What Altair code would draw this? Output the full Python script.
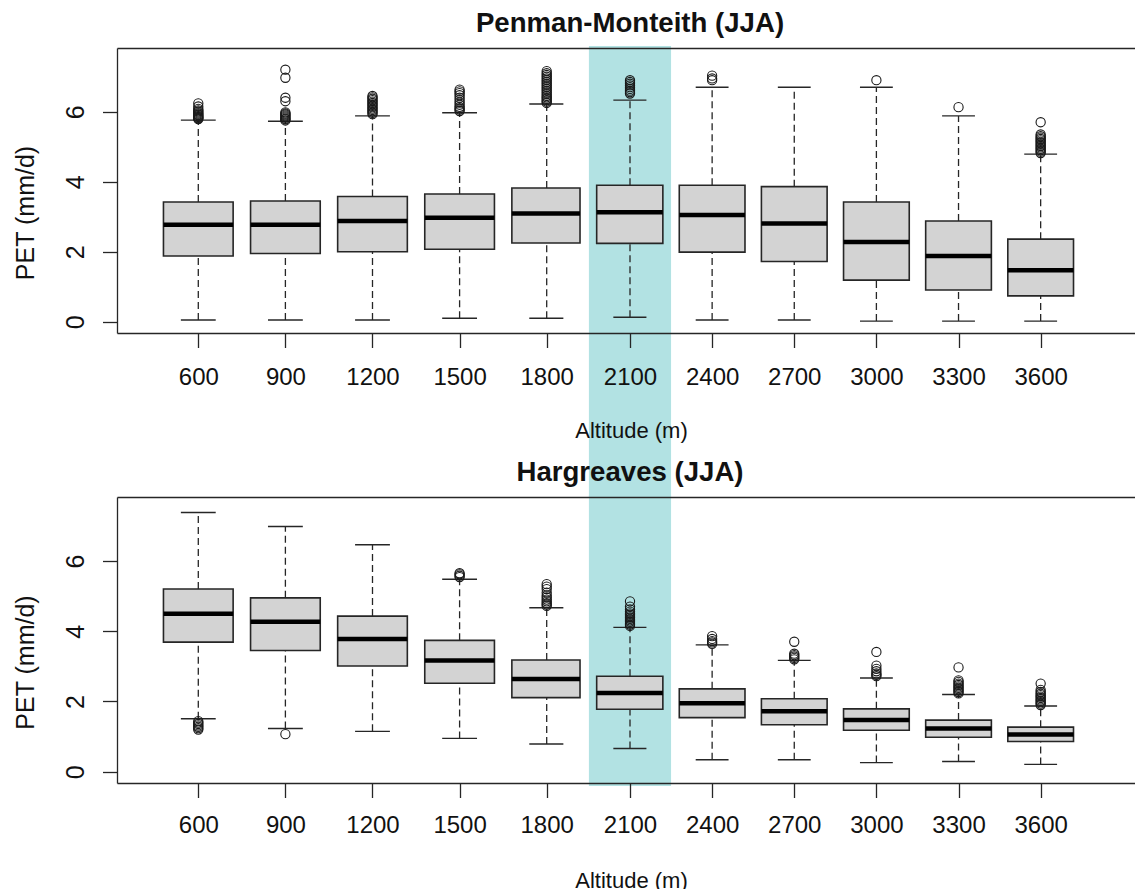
import altair as alt
import pandas as pd

ALTITUDES = [600, 900, 1200, 1500, 1800, 2100, 2400, 2700, 3000, 3300, 3600]
HIGHLIGHT_ALT = 2100

# Penman-Monteith (JJA): whisker ends, quartiles, medians and outliers, mm/d
PM_LOWER = [0.05, 0.05, 0.05, 0.10, 0.10, 0.13, 0.05, 0.05, 0.02, 0.02, 0.02]
PM_Q1 = [1.88, 1.95, 2.00, 2.07, 2.25, 2.24, 1.99, 1.72, 1.19, 0.91, 0.74]
PM_MEDIAN = [2.77, 2.77, 2.88, 2.97, 3.09, 3.13, 3.05, 2.81, 2.28, 1.88, 1.47]
PM_Q3 = [3.42, 3.45, 3.58, 3.65, 3.82, 3.90, 3.90, 3.86, 3.42, 2.88, 2.36]
PM_UPPER = [5.76, 5.73, 5.88, 5.97, 6.22, 6.33, 6.70, 6.70, 6.70, 5.88, 4.79]
PM_OUTLIERS = [
    [5.79, 5.81, 5.83, 5.85, 5.87, 5.90, 5.92, 5.95, 5.98, 6.01, 6.04, 6.08, 6.15, 6.24],
    [5.75, 5.78, 5.80, 5.83, 5.86, 5.89, 5.92, 5.95, 5.98, 6.30, 6.40, 6.97, 7.20],
    [5.93, 5.97, 6.01, 6.05, 6.09, 6.13, 6.17, 6.21, 6.25, 6.29, 6.33, 6.37, 6.41, 6.45],
    [6.02, 6.06, 6.10, 6.14, 6.20, 6.26, 6.33, 6.40, 6.47, 6.53, 6.58, 6.63],
    [6.25, 6.29, 6.33, 6.37, 6.41, 6.45, 6.50, 6.55, 6.60, 6.65, 6.70, 6.75, 6.80,
     6.85, 6.90, 6.95, 7.00, 7.05, 7.10, 7.16],
    [6.52, 6.56, 6.60, 6.65, 6.70, 6.75, 6.80, 6.85, 6.90],
    [6.90, 6.95, 7.03],
    [],
    [6.90],
    [6.13],
    [4.82, 4.86, 4.90, 4.94, 4.98, 5.02, 5.06, 5.10, 5.14, 5.18, 5.22, 5.26, 5.30, 5.35, 5.70],
]

# Hargreaves (JJA)
HG_LOWER = [1.51, 1.23, 1.15, 0.95, 0.79, 0.66, 0.34, 0.34, 0.26, 0.29, 0.21]
HG_Q1 = [3.69, 3.45, 3.01, 2.52, 2.11, 1.78, 1.54, 1.34, 1.18, 0.98, 0.86]
HG_MEDIAN = [4.50, 4.27, 3.78, 3.17, 2.64, 2.24, 1.95, 1.72, 1.47, 1.23, 1.06]
HG_Q3 = [5.20, 4.95, 4.43, 3.74, 3.18, 2.72, 2.36, 2.08, 1.79, 1.47, 1.27]
HG_UPPER = [7.38, 6.98, 6.46, 5.48, 4.67, 4.11, 3.61, 3.17, 2.67, 2.20, 1.87]
HG_OUTLIERS = [
    [1.20, 1.24, 1.28, 1.32, 1.36, 1.40, 1.44],
    [1.07],
    [],
    [5.54, 5.58, 5.62, 5.65],
    [4.72, 4.76, 4.80, 4.85, 4.90, 4.96, 5.02, 5.10, 5.20, 5.27, 5.34],
    [4.15, 4.19, 4.23, 4.27, 4.31, 4.35, 4.39, 4.43, 4.47, 4.51, 4.56, 4.62, 4.70, 4.85],
    [3.64, 3.68, 3.72, 3.78, 3.86],
    [3.20, 3.24, 3.28, 3.32, 3.36, 3.70],
    [2.72, 2.76, 2.80, 2.86, 2.93, 3.02, 3.41],
    [2.23, 2.27, 2.31, 2.35, 2.39, 2.43, 2.47, 2.51, 2.56, 2.60, 2.97],
    [1.90, 1.94, 1.98, 2.02, 2.06, 2.10, 2.14, 2.18, 2.22, 2.27, 2.33, 2.51],
]

FONT = "Liberation Sans"
INK = "#262626"
BAND = "#b2e2e3"
BOX_FILL = "#d3d3d3"

PLOT_W = 1018
GAP = 164
# altitude axis: slightly wider spacing on the low-altitude half
X_SCALE = alt.Scale(domain=[320, 1800, 2100, 3944.6], range=[0, 429.7, 513, PLOT_W],
                    nice=False, zero=False)
Y_SCALE = alt.Scale(domain=[-0.32, 7.82], nice=False, zero=False)


def panel(title, lower, q1, med, q3, upper, outliers, height, band_below, label_pad):
    stats = pd.DataFrame({"alt": ALTITUDES, "lower": lower, "q1": q1,
                          "median": med, "q3": q3, "upper": upper})
    points = pd.DataFrame([{"alt": a, "pet": v}
                           for a, vals in zip(ALTITUDES, outliers) for v in vals])
    highlight = pd.DataFrame({"alt": [HIGHLIGHT_ALT]})

    y_axis = alt.Axis(values=[0, 2, 4, 6], title="PET (mm/d)", grid=False,
                      labelAngle=-90, labelAlign="center", labelBaseline="alphabetic",
                      labelPadding=19, labelFontSize=25, labelFont=FONT, labelColor="#111",
                      tickSize=14.5, tickColor=INK, tickWidth=1.3,
                      domainColor=INK, domainWidth=1.3,
                      titleFont=FONT, titleFontSize=25, titleFontWeight="normal",
                      titleColor="#111", titleAngle=-90, titleAlign="center",
                      titleBaseline="alphabetic", titleX=-83.7, titleY=height / 2 + 22,
                      zindex=1)
    x_axis = alt.Axis(values=ALTITUDES, format="d", grid=False, orient="bottom",
                      labelFontSize=24, labelFont=FONT, labelColor="#111",
                      labelBaseline="alphabetic", labelPadding=label_pad,
                      labelFlush=False, labelOverlap=False,
                      tickSize=14.5, tickColor=INK, tickWidth=1.3,
                      domainColor=INK, domainWidth=1.3,
                      title="Altitude (m)", titleFont=FONT, titleFontSize=22,
                      titleFontWeight="normal", titleColor="#111",
                      titleBaseline="alphabetic", titleX=514, titleY=104.7, zindex=1)
    # top edge of the plot frame: an unlabelled axis on the opposite side
    top_frame = alt.Axis(orient="top", labels=False, ticks=False, title=None, grid=False,
                         domain=True, domainColor=INK, domainWidth=1.3, zindex=1,
                         minExtent=0, maxExtent=0)

    band = alt.Chart(highlight).transform_calculate(
        left="datum.alt - 148", right="datum.alt + 150"
    ).mark_rect(color=BAND).encode(
        x=alt.X("left:Q", scale=X_SCALE, axis=top_frame),
        x2="right:Q",
        y=alt.value(-2),
        y2=alt.value(height + band_below),
    )

    base = alt.Chart(stats).transform_calculate(
        box_l="datum.alt - 120", box_r="datum.alt + 120",
        cap_l="datum.alt - 60", cap_r="datum.alt + 60",
    )

    def xenc(field):
        return alt.X(field, scale=X_SCALE, axis=x_axis)

    def yenc(field):
        return alt.Y(field, scale=Y_SCALE, axis=y_axis)

    whisk_lo = base.mark_rule(color=INK, strokeWidth=1.3, strokeDash=[7, 4]).encode(
        x=xenc("alt:Q"), y=yenc("lower:Q"), y2="q1:Q")
    whisk_hi = base.mark_rule(color=INK, strokeWidth=1.3, strokeDash=[7, 4]).encode(
        x=xenc("alt:Q"), y=yenc("q3:Q"), y2="upper:Q")
    cap_lo = base.mark_rule(color=INK, strokeWidth=1.4).encode(
        x=xenc("cap_l:Q"), x2="cap_r:Q", y=yenc("lower:Q"))
    cap_hi = base.mark_rule(color=INK, strokeWidth=1.4).encode(
        x=xenc("cap_l:Q"), x2="cap_r:Q", y=yenc("upper:Q"))
    box = base.mark_rect(fill=BOX_FILL, stroke=INK, strokeWidth=1.6).encode(
        x=xenc("box_l:Q"), x2="box_r:Q", y=yenc("q1:Q"), y2="q3:Q")
    median = base.mark_rule(color="black", strokeWidth=4.5, strokeCap="butt").encode(
        x=xenc("box_l:Q"), x2="box_r:Q", y=yenc("median:Q"))
    outs = alt.Chart(points).mark_point(shape="circle", filled=False, size=85,
                                        stroke="#1a1a1a", strokeWidth=1.1, opacity=1).encode(
        x=xenc("alt:Q"), y=yenc("pet:Q"))

    boxes = alt.layer(whisk_lo, whisk_hi, cap_lo, cap_hi, box, median, outs)

    return alt.layer(band, boxes).resolve_axis(x="independent").properties(
        width=PLOT_W, height=height,
        title=alt.TitleParams(title, font=FONT, fontSize=27.6, fontWeight="bold",
                              color="#111", anchor="middle", baseline="alphabetic",
                              offset=-13.5, dx=4),
    )


top = panel("Penman-Monteith (JJA)", PM_LOWER, PM_Q1, PM_MEDIAN, PM_Q3, PM_UPPER,
            PM_OUTLIERS, 285, GAP, 36.5)
bottom = panel("Hargreaves (JJA)", HG_LOWER, HG_Q1, HG_MEDIAN, HG_Q3, HG_UPPER,
               HG_OUTLIERS, 286, 3, 35)

chart = alt.vconcat(top, bottom, spacing=GAP, bounds="flush").configure_view(
    stroke=None
).properties(
    padding={"left": 13, "top": 9, "right": 0, "bottom": -3},
    background="white",
)

chart.save("out.html", embed_options={"renderer": "svg", "actions": False})
